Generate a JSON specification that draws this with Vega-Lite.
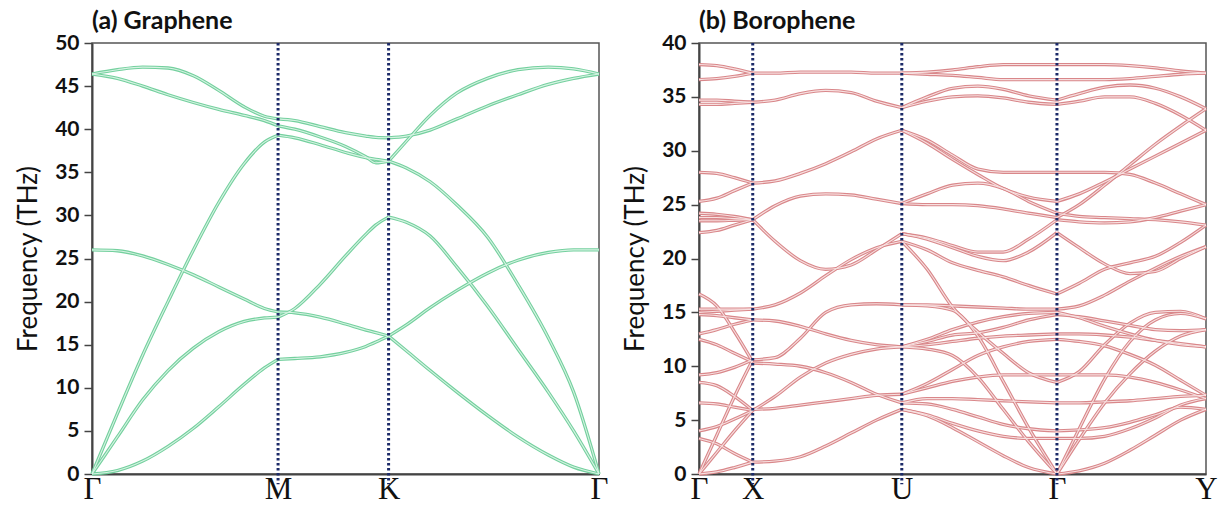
{
"$schema": "https://vega.github.io/schema/vega-lite/v6.json",
"background": "white",
"padding": {"left": 14, "top": 8, "right": 5, "bottom": 5},
"bounds": "flush",
"spacing": 100,
"config": {
 "view": {"stroke": "#555", "strokeWidth": 1.5},
 "axis": {"grid": false, "domainColor": "#444", "domainWidth": 2, "tickColor": "#444", "tickWidth": 1.5, "labelFont": "Lato", "titleFont": "Lato"},
 "title": {"font": "Lato", "fontSize": 25, "fontWeight": "bold", "anchor": "start", "frame": "group", "color": "#111", "offset": -2}
},
"datasets": {
 "gv": [{"x": 0.367}, {"x": 0.585}],
 "bv": [{"x": 0.106}, {"x": 0.4}, {"x": 0.706}],
 "gr": [
  {"s":"gm1","x":0,"y":0},{"s":"gm1","x":0.05,"y":0.4},{"s":"gm1","x":0.1,"y":1.5},{"s":"gm1","x":0.15,"y":3.2},{"s":"gm1","x":0.2,"y":5.3},{"s":"gm1","x":0.25,"y":7.8},{"s":"gm1","x":0.3,"y":10.4},{"s":"gm1","x":0.34,"y":12.3},{"s":"gm1","x":0.367,"y":13.3},
  {"s":"gm2","x":0,"y":0},{"s":"gm2","x":0.05,"y":4.3},{"s":"gm2","x":0.1,"y":8.6},{"s":"gm2","x":0.15,"y":12.0},{"s":"gm2","x":0.2,"y":14.6},{"s":"gm2","x":0.25,"y":16.5},{"s":"gm2","x":0.3,"y":17.7},{"s":"gm2","x":0.34,"y":18.1},{"s":"gm2","x":0.367,"y":18.2},
  {"s":"gm3","x":0,"y":0},{"s":"gm3","x":0.05,"y":7.0},{"s":"gm3","x":0.1,"y":13.8},{"s":"gm3","x":0.15,"y":20.0},{"s":"gm3","x":0.2,"y":26.0},{"s":"gm3","x":0.25,"y":31.5},{"s":"gm3","x":0.3,"y":36.0},{"s":"gm3","x":0.34,"y":38.5},{"s":"gm3","x":0.367,"y":39.3},
  {"s":"gm4","x":0,"y":26.0},{"s":"gm4","x":0.05,"y":25.9},{"s":"gm4","x":0.1,"y":25.3},{"s":"gm4","x":0.15,"y":24.3},{"s":"gm4","x":0.2,"y":23.1},{"s":"gm4","x":0.25,"y":21.7},{"s":"gm4","x":0.3,"y":20.3},{"s":"gm4","x":0.34,"y":19.2},{"s":"gm4","x":0.367,"y":18.8},
  {"s":"gm5","x":0,"y":46.4},{"s":"gm5","x":0.05,"y":46.9},{"s":"gm5","x":0.1,"y":47.2},{"s":"gm5","x":0.15,"y":47.1},{"s":"gm5","x":0.2,"y":46.2},{"s":"gm5","x":0.25,"y":44.5},{"s":"gm5","x":0.3,"y":42.6},{"s":"gm5","x":0.34,"y":41.5},{"s":"gm5","x":0.367,"y":41.2},
  {"s":"gm6","x":0,"y":46.4},{"s":"gm6","x":0.05,"y":45.9},{"s":"gm6","x":0.1,"y":45.0},{"s":"gm6","x":0.15,"y":44.0},{"s":"gm6","x":0.2,"y":43.1},{"s":"gm6","x":0.25,"y":42.3},{"s":"gm6","x":0.3,"y":41.6},{"s":"gm6","x":0.34,"y":41.0},{"s":"gm6","x":0.367,"y":40.4},
  {"s":"mk1","x":0.367,"y":13.3},{"s":"mk1","x":0.4,"y":13.4},{"s":"mk1","x":0.45,"y":13.6},{"s":"mk1","x":0.5,"y":14.1},{"s":"mk1","x":0.54,"y":14.8},{"s":"mk1","x":0.56,"y":15.3},{"s":"mk1","x":0.585,"y":16.0},
  {"s":"mk2","x":0.367,"y":18.2},{"s":"mk2","x":0.4,"y":19.2},{"s":"mk2","x":0.45,"y":22.0},{"s":"mk2","x":0.5,"y":25.3},{"s":"mk2","x":0.54,"y":27.8},{"s":"mk2","x":0.56,"y":28.9},{"s":"mk2","x":0.585,"y":29.8},
  {"s":"mk3","x":0.367,"y":18.8},{"s":"mk3","x":0.4,"y":18.7},{"s":"mk3","x":0.45,"y":18.2},{"s":"mk3","x":0.5,"y":17.4},{"s":"mk3","x":0.54,"y":16.7},{"s":"mk3","x":0.56,"y":16.4},{"s":"mk3","x":0.585,"y":16.0},
  {"s":"mk4","x":0.367,"y":39.3},{"s":"mk4","x":0.4,"y":39.0},{"s":"mk4","x":0.45,"y":38.2},{"s":"mk4","x":0.5,"y":37.3},{"s":"mk4","x":0.54,"y":36.7},{"s":"mk4","x":0.56,"y":36.5},{"s":"mk4","x":0.585,"y":36.3},
  {"s":"mk5","x":0.367,"y":40.4},{"s":"mk5","x":0.4,"y":40.0},{"s":"mk5","x":0.45,"y":39.1},{"s":"mk5","x":0.5,"y":38.0},{"s":"mk5","x":0.54,"y":36.8},{"s":"mk5","x":0.56,"y":36.1},{"s":"mk5","x":0.585,"y":36.3},
  {"s":"mk6","x":0.367,"y":41.2},{"s":"mk6","x":0.4,"y":41.0},{"s":"mk6","x":0.45,"y":40.3},{"s":"mk6","x":0.5,"y":39.6},{"s":"mk6","x":0.54,"y":39.2},{"s":"mk6","x":0.56,"y":39.05},{"s":"mk6","x":0.585,"y":39.0},
  {"s":"kg1","x":0.585,"y":16.0},{"s":"kg1","x":0.62,"y":14.3},{"s":"kg1","x":0.667,"y":12.0},{"s":"kg1","x":0.72,"y":9.5},{"s":"kg1","x":0.78,"y":6.8},{"s":"kg1","x":0.84,"y":4.3},{"s":"kg1","x":0.9,"y":2.2},{"s":"kg1","x":0.95,"y":0.8},{"s":"kg1","x":1,"y":0},
  {"s":"kg2","x":0.585,"y":16.0},{"s":"kg2","x":0.62,"y":17.3},{"s":"kg2","x":0.667,"y":19.3},{"s":"kg2","x":0.72,"y":21.3},{"s":"kg2","x":0.78,"y":23.3},{"s":"kg2","x":0.84,"y":24.8},{"s":"kg2","x":0.9,"y":25.7},{"s":"kg2","x":0.95,"y":26.0},{"s":"kg2","x":1,"y":26.0},
  {"s":"kg3","x":0.585,"y":29.8},{"s":"kg3","x":0.62,"y":29.2},{"s":"kg3","x":0.667,"y":27.6},{"s":"kg3","x":0.72,"y":24.0},{"s":"kg3","x":0.78,"y":19.5},{"s":"kg3","x":0.84,"y":14.5},{"s":"kg3","x":0.9,"y":9.5},{"s":"kg3","x":0.95,"y":5.0},{"s":"kg3","x":1,"y":0},
  {"s":"kg4","x":0.585,"y":36.3},{"s":"kg4","x":0.62,"y":35.5},{"s":"kg4","x":0.667,"y":33.9},{"s":"kg4","x":0.72,"y":31.2},{"s":"kg4","x":0.78,"y":27.5},{"s":"kg4","x":0.84,"y":22.0},{"s":"kg4","x":0.9,"y":15.8},{"s":"kg4","x":0.95,"y":9.5},{"s":"kg4","x":1,"y":0},
  {"s":"kg5","x":0.585,"y":36.3},{"s":"kg5","x":0.62,"y":38.6},{"s":"kg5","x":0.667,"y":41.6},{"s":"kg5","x":0.72,"y":44.2},{"s":"kg5","x":0.78,"y":45.9},{"s":"kg5","x":0.84,"y":46.9},{"s":"kg5","x":0.9,"y":47.2},{"s":"kg5","x":0.95,"y":47.0},{"s":"kg5","x":1,"y":46.4},
  {"s":"kg6","x":0.585,"y":39.0},{"s":"kg6","x":0.62,"y":39.2},{"s":"kg6","x":0.667,"y":39.9},{"s":"kg6","x":0.72,"y":41.2},{"s":"kg6","x":0.78,"y":42.7},{"s":"kg6","x":0.84,"y":44.0},{"s":"kg6","x":0.9,"y":45.2},{"s":"kg6","x":0.95,"y":45.9},{"s":"kg6","x":1,"y":46.4}
 ],
 "bo": [
  {"s":"p1","x":0,"y":38.0},{"s":"p1","x":0.035,"y":37.9},{"s":"p1","x":0.07,"y":37.6},{"s":"p1","x":0.106,"y":37.2},
  {"s":"p2","x":0,"y":36.6},{"s":"p2","x":0.035,"y":36.7},{"s":"p2","x":0.07,"y":36.9},{"s":"p2","x":0.106,"y":37.2},
  {"s":"p3","x":0,"y":34.7},{"s":"p3","x":0.035,"y":34.7},{"s":"p3","x":0.07,"y":34.6},{"s":"p3","x":0.106,"y":34.5},
  {"s":"p4","x":0,"y":34.3},{"s":"p4","x":0.035,"y":34.3},{"s":"p4","x":0.07,"y":34.4},{"s":"p4","x":0.106,"y":34.5},
  {"s":"p5","x":0,"y":28.0},{"s":"p5","x":0.035,"y":27.9},{"s":"p5","x":0.07,"y":27.5},{"s":"p5","x":0.106,"y":27.0},
  {"s":"p6","x":0,"y":25.3},{"s":"p6","x":0.035,"y":25.6},{"s":"p6","x":0.07,"y":26.3},{"s":"p6","x":0.106,"y":27.0},
  {"s":"p7","x":0,"y":24.2},{"s":"p7","x":0.035,"y":24.1},{"s":"p7","x":0.07,"y":23.9},{"s":"p7","x":0.106,"y":23.6},
  {"s":"p8","x":0,"y":23.8},{"s":"p8","x":0.035,"y":23.8},{"s":"p8","x":0.07,"y":23.7},{"s":"p8","x":0.106,"y":23.6},
  {"s":"p9","x":0,"y":23.5},{"s":"p9","x":0.035,"y":23.5},{"s":"p9","x":0.07,"y":23.55},{"s":"p9","x":0.106,"y":23.6},
  {"s":"p10","x":0,"y":22.4},{"s":"p10","x":0.035,"y":22.6},{"s":"p10","x":0.07,"y":23.1},{"s":"p10","x":0.106,"y":23.6},
  {"s":"p11","x":0,"y":16.7},{"s":"p11","x":0.035,"y":15.6},{"s":"p11","x":0.07,"y":13.2},{"s":"p11","x":0.106,"y":10.4},
  {"s":"p12","x":0,"y":15.3},{"s":"p12","x":0.035,"y":15.3},{"s":"p12","x":0.07,"y":15.3},{"s":"p12","x":0.106,"y":15.3},
  {"s":"p13","x":0,"y":15.0},{"s":"p13","x":0.035,"y":15.1},{"s":"p13","x":0.07,"y":15.2},{"s":"p13","x":0.106,"y":15.3},
  {"s":"p14","x":0,"y":14.8},{"s":"p14","x":0.035,"y":14.7},{"s":"p14","x":0.07,"y":14.5},{"s":"p14","x":0.106,"y":14.3},
  {"s":"p15","x":0,"y":13.0},{"s":"p15","x":0.035,"y":13.4},{"s":"p15","x":0.07,"y":13.9},{"s":"p15","x":0.106,"y":14.3},
  {"s":"p16","x":0,"y":12.5},{"s":"p16","x":0.035,"y":12.0},{"s":"p16","x":0.07,"y":11.2},{"s":"p16","x":0.106,"y":10.4},
  {"s":"p17","x":0,"y":9.2},{"s":"p17","x":0.035,"y":9.4},{"s":"p17","x":0.07,"y":9.9},{"s":"p17","x":0.106,"y":10.6},
  {"s":"p18","x":0,"y":0},{"s":"p18","x":0.035,"y":3.6},{"s":"p18","x":0.07,"y":7.2},{"s":"p18","x":0.106,"y":10.6},
  {"s":"p19","x":0,"y":8.5},{"s":"p19","x":0.035,"y":8.2},{"s":"p19","x":0.07,"y":7.2},{"s":"p19","x":0.106,"y":5.9},
  {"s":"p20","x":0,"y":6.6},{"s":"p20","x":0.035,"y":6.5},{"s":"p20","x":0.07,"y":6.2},{"s":"p20","x":0.106,"y":5.9},
  {"s":"p21","x":0,"y":4.0},{"s":"p21","x":0.035,"y":4.4},{"s":"p21","x":0.07,"y":5.1},{"s":"p21","x":0.106,"y":5.9},
  {"s":"p22","x":0,"y":0},{"s":"p22","x":0.035,"y":2.0},{"s":"p22","x":0.07,"y":4.0},{"s":"p22","x":0.106,"y":5.9},
  {"s":"p23","x":0,"y":3.3},{"s":"p23","x":0.035,"y":2.8},{"s":"p23","x":0.07,"y":1.9},{"s":"p23","x":0.106,"y":1.1},
  {"s":"p24","x":0,"y":0},{"s":"p24","x":0.035,"y":0.2},{"s":"p24","x":0.07,"y":0.6},{"s":"p24","x":0.106,"y":1.1},
  {"s":"q1","x":0.106,"y":37.2},{"s":"q1","x":0.15,"y":37.2},{"s":"q1","x":0.2,"y":37.3},{"s":"q1","x":0.25,"y":37.3},{"s":"q1","x":0.3,"y":37.3},{"s":"q1","x":0.35,"y":37.2},{"s":"q1","x":0.4,"y":37.2},
  {"s":"q2","x":0.106,"y":34.5},{"s":"q2","x":0.15,"y":34.7},{"s":"q2","x":0.2,"y":35.3},{"s":"q2","x":0.25,"y":35.6},{"s":"q2","x":0.3,"y":35.4},{"s":"q2","x":0.35,"y":34.6},{"s":"q2","x":0.4,"y":34.0},
  {"s":"q3","x":0.106,"y":27.0},{"s":"q3","x":0.15,"y":27.2},{"s":"q3","x":0.2,"y":27.9},{"s":"q3","x":0.25,"y":28.8},{"s":"q3","x":0.3,"y":29.9},{"s":"q3","x":0.35,"y":31.1},{"s":"q3","x":0.4,"y":31.9},
  {"s":"q4","x":0.106,"y":23.6},{"s":"q4","x":0.15,"y":24.9},{"s":"q4","x":0.2,"y":25.8},{"s":"q4","x":0.25,"y":26.0},{"s":"q4","x":0.3,"y":25.9},{"s":"q4","x":0.35,"y":25.5},{"s":"q4","x":0.4,"y":25.1},
  {"s":"q5","x":0.106,"y":23.6},{"s":"q5","x":0.15,"y":21.6},{"s":"q5","x":0.2,"y":19.8},{"s":"q5","x":0.25,"y":19.0},{"s":"q5","x":0.3,"y":19.4},{"s":"q5","x":0.35,"y":20.8},{"s":"q5","x":0.4,"y":22.3},
  {"s":"q6","x":0.106,"y":15.3},{"s":"q6","x":0.15,"y":15.7},{"s":"q6","x":0.2,"y":16.8},{"s":"q6","x":0.25,"y":18.4},{"s":"q6","x":0.3,"y":19.9},{"s":"q6","x":0.35,"y":21.0},{"s":"q6","x":0.4,"y":21.6},
  {"s":"q7","x":0.106,"y":14.3},{"s":"q7","x":0.15,"y":14.2},{"s":"q7","x":0.2,"y":13.7},{"s":"q7","x":0.25,"y":13.0},{"s":"q7","x":0.3,"y":12.4},{"s":"q7","x":0.35,"y":12.0},{"s":"q7","x":0.4,"y":11.8},
  {"s":"q8","x":0.106,"y":10.6},{"s":"q8","x":0.15,"y":10.8},{"s":"q8","x":0.2,"y":12.6},{"s":"q8","x":0.25,"y":15.0},{"s":"q8","x":0.3,"y":15.7},{"s":"q8","x":0.35,"y":15.8},{"s":"q8","x":0.4,"y":15.7},
  {"s":"q9","x":0.106,"y":10.3},{"s":"q9","x":0.15,"y":10.2},{"s":"q9","x":0.2,"y":10.0},{"s":"q9","x":0.25,"y":9.4},{"s":"q9","x":0.3,"y":8.5},{"s":"q9","x":0.35,"y":7.4},{"s":"q9","x":0.4,"y":6.6},
  {"s":"q10","x":0.106,"y":5.9},{"s":"q10","x":0.15,"y":7.2},{"s":"q10","x":0.2,"y":9.0},{"s":"q10","x":0.25,"y":10.3},{"s":"q10","x":0.3,"y":11.1},{"s":"q10","x":0.35,"y":11.6},{"s":"q10","x":0.4,"y":11.8},
  {"s":"q11","x":0.106,"y":6.0},{"s":"q11","x":0.15,"y":6.1},{"s":"q11","x":0.2,"y":6.4},{"s":"q11","x":0.25,"y":6.7},{"s":"q11","x":0.3,"y":7.0},{"s":"q11","x":0.35,"y":7.3},{"s":"q11","x":0.4,"y":7.4},
  {"s":"q12","x":0.106,"y":1.1},{"s":"q12","x":0.15,"y":1.2},{"s":"q12","x":0.2,"y":1.6},{"s":"q12","x":0.25,"y":2.6},{"s":"q12","x":0.3,"y":3.8},{"s":"q12","x":0.35,"y":5.0},{"s":"q12","x":0.4,"y":6.0},
  {"s":"r1","x":0.4,"y":37.2},{"s":"r1","x":0.45,"y":37.3},{"s":"r1","x":0.5,"y":37.5},{"s":"r1","x":0.55,"y":37.8},{"s":"r1","x":0.6,"y":38.0},{"s":"r1","x":0.65,"y":38.0},{"s":"r1","x":0.706,"y":38.0},
  {"s":"r2","x":0.4,"y":37.2},{"s":"r2","x":0.45,"y":37.1},{"s":"r2","x":0.5,"y":37.0},{"s":"r2","x":0.55,"y":36.8},{"s":"r2","x":0.6,"y":36.6},{"s":"r2","x":0.65,"y":36.6},{"s":"r2","x":0.706,"y":36.6},
  {"s":"r3","x":0.4,"y":34.0},{"s":"r3","x":0.45,"y":35.0},{"s":"r3","x":0.5,"y":35.8},{"s":"r3","x":0.55,"y":36.0},{"s":"r3","x":0.6,"y":35.7},{"s":"r3","x":0.65,"y":35.1},{"s":"r3","x":0.706,"y":34.7},
  {"s":"r4","x":0.4,"y":34.0},{"s":"r4","x":0.45,"y":34.6},{"s":"r4","x":0.5,"y":35.0},{"s":"r4","x":0.55,"y":35.1},{"s":"r4","x":0.6,"y":34.9},{"s":"r4","x":0.65,"y":34.5},{"s":"r4","x":0.706,"y":34.3},
  {"s":"r5","x":0.4,"y":31.9},{"s":"r5","x":0.45,"y":31.0},{"s":"r5","x":0.5,"y":29.6},{"s":"r5","x":0.55,"y":28.3},{"s":"r5","x":0.6,"y":28.0},{"s":"r5","x":0.65,"y":28.0},{"s":"r5","x":0.706,"y":28.0},
  {"s":"r6","x":0.4,"y":31.9},{"s":"r6","x":0.45,"y":30.7},{"s":"r6","x":0.5,"y":29.2},{"s":"r6","x":0.55,"y":27.8},{"s":"r6","x":0.6,"y":26.5},{"s":"r6","x":0.65,"y":25.7},{"s":"r6","x":0.706,"y":25.3},
  {"s":"r7","x":0.4,"y":25.1},{"s":"r7","x":0.45,"y":26.0},{"s":"r7","x":0.5,"y":26.8},{"s":"r7","x":0.55,"y":27.0},{"s":"r7","x":0.6,"y":26.5},{"s":"r7","x":0.65,"y":25.3},{"s":"r7","x":0.706,"y":24.2},
  {"s":"r8","x":0.4,"y":25.1},{"s":"r8","x":0.45,"y":25.0},{"s":"r8","x":0.5,"y":25.0},{"s":"r8","x":0.55,"y":24.9},{"s":"r8","x":0.6,"y":24.6},{"s":"r8","x":0.65,"y":24.2},{"s":"r8","x":0.706,"y":23.8},
  {"s":"r9","x":0.4,"y":22.3},{"s":"r9","x":0.45,"y":21.8},{"s":"r9","x":0.5,"y":21.0},{"s":"r9","x":0.55,"y":20.2},{"s":"r9","x":0.6,"y":19.8},{"s":"r9","x":0.65,"y":20.6},{"s":"r9","x":0.706,"y":22.4},
  {"s":"r10","x":0.4,"y":22.3},{"s":"r10","x":0.45,"y":21.9},{"s":"r10","x":0.5,"y":21.2},{"s":"r10","x":0.55,"y":20.6},{"s":"r10","x":0.6,"y":20.6},{"s":"r10","x":0.65,"y":21.8},{"s":"r10","x":0.706,"y":23.6},
  {"s":"r11","x":0.4,"y":21.6},{"s":"r11","x":0.45,"y":20.8},{"s":"r11","x":0.5,"y":19.6},{"s":"r11","x":0.55,"y":18.9},{"s":"r11","x":0.6,"y":18.3},{"s":"r11","x":0.65,"y":17.5},{"s":"r11","x":0.706,"y":16.7},
  {"s":"r12","x":0.4,"y":21.6},{"s":"r12","x":0.45,"y":19.0},{"s":"r12","x":0.5,"y":15.5},{"s":"r12","x":0.55,"y":13.2},{"s":"r12","x":0.6,"y":11.2},{"s":"r12","x":0.65,"y":9.4},{"s":"r12","x":0.706,"y":8.5},
  {"s":"r13","x":0.4,"y":15.7},{"s":"r13","x":0.45,"y":15.7},{"s":"r13","x":0.5,"y":15.6},{"s":"r13","x":0.55,"y":15.5},{"s":"r13","x":0.6,"y":15.4},{"s":"r13","x":0.65,"y":15.3},{"s":"r13","x":0.706,"y":15.3},
  {"s":"r14","x":0.4,"y":15.7},{"s":"r14","x":0.45,"y":15.6},{"s":"r14","x":0.5,"y":15.2},{"s":"r14","x":0.55,"y":12.8},{"s":"r14","x":0.6,"y":8.6},{"s":"r14","x":0.65,"y":4.3},{"s":"r14","x":0.706,"y":0},
  {"s":"r15","x":0.4,"y":11.8},{"s":"r15","x":0.45,"y":12.5},{"s":"r15","x":0.5,"y":13.4},{"s":"r15","x":0.55,"y":14.1},{"s":"r15","x":0.6,"y":14.6},{"s":"r15","x":0.65,"y":14.9},{"s":"r15","x":0.706,"y":15.0},
  {"s":"r16","x":0.4,"y":11.8},{"s":"r16","x":0.45,"y":12.3},{"s":"r16","x":0.5,"y":12.9},{"s":"r16","x":0.55,"y":13.1},{"s":"r16","x":0.6,"y":13.6},{"s":"r16","x":0.65,"y":14.3},{"s":"r16","x":0.706,"y":14.8},
  {"s":"r17","x":0.4,"y":11.8},{"s":"r17","x":0.45,"y":12.0},{"s":"r17","x":0.5,"y":12.3},{"s":"r17","x":0.55,"y":12.6},{"s":"r17","x":0.6,"y":12.8},{"s":"r17","x":0.65,"y":12.9},{"s":"r17","x":0.706,"y":13.0},
  {"s":"r18","x":0.4,"y":11.8},{"s":"r18","x":0.45,"y":11.6},{"s":"r18","x":0.5,"y":11.0},{"s":"r18","x":0.55,"y":9.0},{"s":"r18","x":0.6,"y":6.0},{"s":"r18","x":0.65,"y":3.0},{"s":"r18","x":0.706,"y":0},
  {"s":"r19","x":0.4,"y":7.4},{"s":"r19","x":0.45,"y":8.4},{"s":"r19","x":0.5,"y":9.7},{"s":"r19","x":0.55,"y":11.0},{"s":"r19","x":0.6,"y":11.8},{"s":"r19","x":0.65,"y":12.3},{"s":"r19","x":0.706,"y":12.5},
  {"s":"r20","x":0.4,"y":7.4},{"s":"r20","x":0.45,"y":8.0},{"s":"r20","x":0.5,"y":8.6},{"s":"r20","x":0.55,"y":9.0},{"s":"r20","x":0.6,"y":9.2},{"s":"r20","x":0.65,"y":9.2},{"s":"r20","x":0.706,"y":9.2},
  {"s":"r21","x":0.4,"y":6.6},{"s":"r21","x":0.45,"y":7.0},{"s":"r21","x":0.5,"y":7.0},{"s":"r21","x":0.55,"y":6.9},{"s":"r21","x":0.6,"y":6.8},{"s":"r21","x":0.65,"y":6.7},{"s":"r21","x":0.706,"y":6.6},
  {"s":"r22","x":0.4,"y":6.6},{"s":"r22","x":0.45,"y":6.5},{"s":"r22","x":0.5,"y":6.0},{"s":"r22","x":0.55,"y":5.3},{"s":"r22","x":0.6,"y":4.6},{"s":"r22","x":0.65,"y":4.2},{"s":"r22","x":0.706,"y":4.0},
  {"s":"r23","x":0.4,"y":6.0},{"s":"r23","x":0.45,"y":5.5},{"s":"r23","x":0.5,"y":4.7},{"s":"r23","x":0.55,"y":4.0},{"s":"r23","x":0.6,"y":3.5},{"s":"r23","x":0.65,"y":3.3},{"s":"r23","x":0.706,"y":3.3},
  {"s":"r24","x":0.4,"y":6.0},{"s":"r24","x":0.45,"y":5.4},{"s":"r24","x":0.5,"y":4.3},{"s":"r24","x":0.55,"y":3.0},{"s":"r24","x":0.6,"y":1.7},{"s":"r24","x":0.65,"y":0.6},{"s":"r24","x":0.706,"y":0},
  {"s":"t1","x":0.706,"y":38.0},{"s":"t1","x":0.75,"y":38.0},{"s":"t1","x":0.8,"y":38.0},{"s":"t1","x":0.85,"y":37.9},{"s":"t1","x":0.9,"y":37.7},{"s":"t1","x":0.95,"y":37.4},{"s":"t1","x":1,"y":37.2},
  {"s":"t2","x":0.706,"y":36.6},{"s":"t2","x":0.75,"y":36.6},{"s":"t2","x":0.8,"y":36.6},{"s":"t2","x":0.85,"y":36.7},{"s":"t2","x":0.9,"y":36.9},{"s":"t2","x":0.95,"y":37.1},{"s":"t2","x":1,"y":37.2},
  {"s":"t3","x":0.706,"y":34.7},{"s":"t3","x":0.75,"y":35.3},{"s":"t3","x":0.8,"y":35.9},{"s":"t3","x":0.85,"y":36.1},{"s":"t3","x":0.9,"y":35.8},{"s":"t3","x":0.95,"y":35.0},{"s":"t3","x":1,"y":33.9},
  {"s":"t4","x":0.706,"y":34.3},{"s":"t4","x":0.75,"y":34.6},{"s":"t4","x":0.8,"y":35.0},{"s":"t4","x":0.85,"y":35.0},{"s":"t4","x":0.9,"y":34.4},{"s":"t4","x":0.95,"y":33.3},{"s":"t4","x":1,"y":31.9},
  {"s":"t5","x":0.706,"y":28.0},{"s":"t5","x":0.75,"y":28.0},{"s":"t5","x":0.8,"y":28.0},{"s":"t5","x":0.85,"y":27.8},{"s":"t5","x":0.9,"y":27.0},{"s":"t5","x":0.95,"y":26.0},{"s":"t5","x":1,"y":25.0},
  {"s":"t6","x":0.706,"y":25.3},{"s":"t6","x":0.75,"y":26.0},{"s":"t6","x":0.8,"y":27.1},{"s":"t6","x":0.85,"y":28.3},{"s":"t6","x":0.9,"y":29.5},{"s":"t6","x":0.95,"y":30.7},{"s":"t6","x":1,"y":31.9},
  {"s":"t7","x":0.706,"y":23.8},{"s":"t7","x":0.75,"y":25.0},{"s":"t7","x":0.8,"y":26.8},{"s":"t7","x":0.85,"y":28.7},{"s":"t7","x":0.9,"y":30.6},{"s":"t7","x":0.95,"y":32.3},{"s":"t7","x":1,"y":33.9},
  {"s":"t8","x":0.706,"y":24.2},{"s":"t8","x":0.75,"y":23.9},{"s":"t8","x":0.8,"y":23.8},{"s":"t8","x":0.85,"y":23.7},{"s":"t8","x":0.9,"y":23.6},{"s":"t8","x":0.95,"y":23.4},{"s":"t8","x":1,"y":23.1},
  {"s":"t9","x":0.706,"y":23.6},{"s":"t9","x":0.75,"y":23.4},{"s":"t9","x":0.8,"y":23.3},{"s":"t9","x":0.85,"y":23.4},{"s":"t9","x":0.9,"y":23.8},{"s":"t9","x":0.95,"y":24.4},{"s":"t9","x":1,"y":25.0},
  {"s":"t10","x":0.706,"y":22.4},{"s":"t10","x":0.75,"y":21.0},{"s":"t10","x":0.8,"y":19.5},{"s":"t10","x":0.85,"y":18.6},{"s":"t10","x":0.9,"y":18.8},{"s":"t10","x":0.95,"y":20.0},{"s":"t10","x":1,"y":21.1},
  {"s":"t11","x":0.706,"y":16.7},{"s":"t11","x":0.75,"y":17.7},{"s":"t11","x":0.8,"y":19.0},{"s":"t11","x":0.85,"y":19.6},{"s":"t11","x":0.9,"y":20.2},{"s":"t11","x":0.95,"y":21.5},{"s":"t11","x":1,"y":23.1},
  {"s":"t12","x":0.706,"y":15.3},{"s":"t12","x":0.75,"y":15.6},{"s":"t12","x":0.8,"y":16.6},{"s":"t12","x":0.85,"y":17.9},{"s":"t12","x":0.9,"y":19.1},{"s":"t12","x":0.95,"y":20.2},{"s":"t12","x":1,"y":21.1},
  {"s":"t13","x":0.706,"y":15.0},{"s":"t13","x":0.75,"y":14.5},{"s":"t13","x":0.8,"y":13.7},{"s":"t13","x":0.85,"y":13.0},{"s":"t13","x":0.9,"y":12.4},{"s":"t13","x":0.95,"y":12.0},{"s":"t13","x":1,"y":11.8},
  {"s":"t14","x":0.706,"y":14.8},{"s":"t14","x":0.75,"y":14.6},{"s":"t14","x":0.8,"y":14.2},{"s":"t14","x":0.85,"y":13.8},{"s":"t14","x":0.9,"y":13.4},{"s":"t14","x":0.95,"y":13.3},{"s":"t14","x":1,"y":13.4},
  {"s":"t15","x":0.706,"y":13.0},{"s":"t15","x":0.75,"y":13.0},{"s":"t15","x":0.8,"y":12.9},{"s":"t15","x":0.85,"y":12.7},{"s":"t15","x":0.9,"y":12.4},{"s":"t15","x":0.95,"y":12.1},{"s":"t15","x":1,"y":11.8},
  {"s":"t16","x":0.706,"y":12.5},{"s":"t16","x":0.75,"y":12.3},{"s":"t16","x":0.8,"y":11.9},{"s":"t16","x":0.85,"y":11.1},{"s":"t16","x":0.9,"y":10.1},{"s":"t16","x":0.95,"y":8.7},{"s":"t16","x":1,"y":7.3},
  {"s":"t17","x":0.706,"y":9.2},{"s":"t17","x":0.75,"y":9.2},{"s":"t17","x":0.8,"y":9.2},{"s":"t17","x":0.85,"y":9.0},{"s":"t17","x":0.9,"y":8.5},{"s":"t17","x":0.95,"y":7.8},{"s":"t17","x":1,"y":7.0},
  {"s":"t18","x":0.706,"y":8.5},{"s":"t18","x":0.75,"y":9.5},{"s":"t18","x":0.8,"y":12.0},{"s":"t18","x":0.85,"y":14.0},{"s":"t18","x":0.9,"y":15.0},{"s":"t18","x":0.95,"y":15.1},{"s":"t18","x":1,"y":14.4},
  {"s":"t19","x":0.706,"y":6.6},{"s":"t19","x":0.75,"y":6.6},{"s":"t19","x":0.8,"y":6.7},{"s":"t19","x":0.85,"y":6.8},{"s":"t19","x":0.9,"y":7.0},{"s":"t19","x":0.95,"y":7.2},{"s":"t19","x":1,"y":7.3},
  {"s":"t20","x":0.706,"y":4.0},{"s":"t20","x":0.75,"y":4.1},{"s":"t20","x":0.8,"y":4.3},{"s":"t20","x":0.85,"y":4.8},{"s":"t20","x":0.9,"y":5.5},{"s":"t20","x":0.95,"y":6.2},{"s":"t20","x":1,"y":6.0},
  {"s":"t21","x":0.706,"y":3.3},{"s":"t21","x":0.75,"y":3.3},{"s":"t21","x":0.8,"y":3.5},{"s":"t21","x":0.85,"y":4.2},{"s":"t21","x":0.9,"y":5.2},{"s":"t21","x":0.95,"y":6.4},{"s":"t21","x":1,"y":7.0},
  {"s":"t22","x":0.706,"y":0},{"s":"t22","x":0.75,"y":4.2},{"s":"t22","x":0.8,"y":8.8},{"s":"t22","x":0.85,"y":12.3},{"s":"t22","x":0.9,"y":14.3},{"s":"t22","x":0.95,"y":14.9},{"s":"t22","x":1,"y":14.4},
  {"s":"t23","x":0.706,"y":0},{"s":"t23","x":0.75,"y":3.2},{"s":"t23","x":0.8,"y":6.6},{"s":"t23","x":0.85,"y":9.3},{"s":"t23","x":0.9,"y":11.4},{"s":"t23","x":0.95,"y":12.8},{"s":"t23","x":1,"y":13.4},
  {"s":"t24","x":0.706,"y":0},{"s":"t24","x":0.75,"y":0.3},{"s":"t24","x":0.8,"y":1.0},{"s":"t24","x":0.85,"y":2.2},{"s":"t24","x":0.9,"y":3.6},{"s":"t24","x":0.95,"y":5.0},{"s":"t24","x":1,"y":6.0}
 ]
},
"hconcat": [
 {
  "width": 507, "height": 431,
  "title": {"text": "(a) Graphene"},
  "layer": [
   {"data": {"name": "gr"}, "mark": {"type": "line", "interpolate": "monotone", "color": "#74d09e", "strokeWidth": 3.3},
    "encoding": {
     "x": {"field": "x", "type": "quantitative", "scale": {"domain": [0, 1], "nice": false, "zero": false},
       "axis": {"values": [0, 0.367, 0.585, 1], "labelExpr": "datum.value < 0.1 ? 'Γ' : datum.value < 0.5 ? 'M' : datum.value < 0.9 ? 'K' : 'Γ'", "title": null, "ticks": false, "tickSize": 0, "labelFont": "Liberation Serif", "labelFontSize": 31, "labelColor": "#111", "labelPadding": 0, "labelFlush": false, "labelOverlap": false, "labelBound": false}},
     "y": {"field": "y", "type": "quantitative", "scale": {"domain": [0, 50], "nice": false},
       "axis": {"values": [0,5,10,15,20,25,30,35,40,45,50], "title": "Frequency (THz)", "titleFontSize": 26, "titleFontWeight": "normal", "titleColor": "#111", "titlePadding": 13, "labelFontSize": 21, "labelFontWeight": "bold", "labelColor": "#111", "tickSize": 8, "labelPadding": 5}},
     "detail": {"field": "s", "type": "nominal"}
    }},
   {"data": {"name": "gr"}, "mark": {"type": "line", "interpolate": "monotone", "color": "#d6f3e3", "strokeWidth": 1.1},
    "encoding": {
     "x": {"field": "x", "type": "quantitative"},
     "y": {"field": "y", "type": "quantitative"},
     "detail": {"field": "s", "type": "nominal"}
    }},
   {"data": {"name": "gv"}, "mark": {"type": "rule", "color": "#1c2a68", "strokeWidth": 3, "strokeDash": [2.5, 2.5]},
    "encoding": {
     "x": {"field": "x", "type": "quantitative"},
     "y": {"datum": 50},
     "y2": {"datum": -1.2}
    }}
  ]
 },
 {
  "width": 507, "height": 431,
  "title": {"text": "(b) Borophene"},
  "layer": [
   {"data": {"name": "bo"}, "mark": {"type": "line", "interpolate": "monotone", "color": "#d9878a", "strokeWidth": 3.3},
    "encoding": {
     "x": {"field": "x", "type": "quantitative", "scale": {"domain": [0, 1], "nice": false, "zero": false},
       "axis": {"values": [0, 0.106, 0.4, 0.706, 1], "labelExpr": "datum.value < 0.05 ? 'Γ' : datum.value < 0.2 ? 'X' : datum.value < 0.5 ? 'U' : datum.value < 0.9 ? 'Γ' : 'Y'", "title": null, "ticks": false, "tickSize": 0, "labelFont": "Liberation Serif", "labelFontSize": 31, "labelColor": "#111", "labelPadding": 0, "labelFlush": false, "labelOverlap": false, "labelBound": false}},
     "y": {"field": "y", "type": "quantitative", "scale": {"domain": [0, 40], "nice": false},
       "axis": {"values": [0,5,10,15,20,25,30,35,40], "title": "Frequency (THz)", "titleFontSize": 26, "titleFontWeight": "normal", "titleColor": "#111", "titlePadding": 13, "labelFontSize": 21, "labelFontWeight": "bold", "labelColor": "#111", "tickSize": 8, "labelPadding": 5}},
     "detail": {"field": "s", "type": "nominal"}
    }},
   {"data": {"name": "bo"}, "mark": {"type": "line", "interpolate": "monotone", "color": "#f7e0e0", "strokeWidth": 1.1},
    "encoding": {
     "x": {"field": "x", "type": "quantitative"},
     "y": {"field": "y", "type": "quantitative"},
     "detail": {"field": "s", "type": "nominal"}
    }},
   {"data": {"name": "bv"}, "mark": {"type": "rule", "color": "#1c2a68", "strokeWidth": 3, "strokeDash": [2.5, 2.5]},
    "encoding": {
     "x": {"field": "x", "type": "quantitative"},
     "y": {"datum": 40},
     "y2": {"datum": -0.95}
    }}
  ]
 }
]
}
